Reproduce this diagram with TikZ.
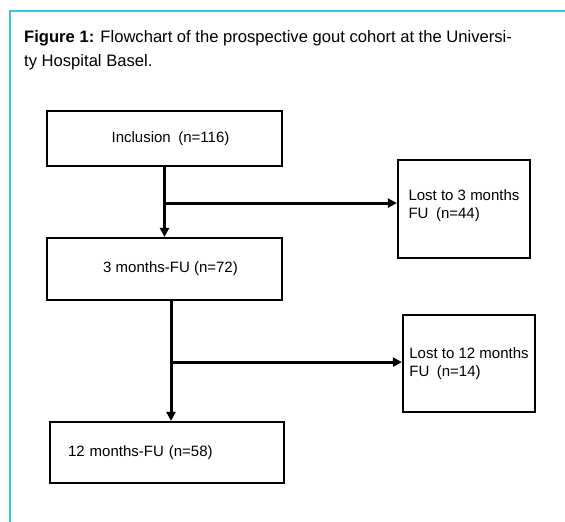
\documentclass[tikz,border=0pt]{standalone}
\usepackage{fontspec}
\setmainfont{Liberation Sans}
\usetikzlibrary{arrows.meta,positioning,calc}
\usepackage{xcolor}
\definecolor{frame}{HTML}{41BEDC}
\definecolor{dark}{HTML}{000000}
\tikzset{
  box/.style={draw=dark, line width=2.2pt, align=center, inner sep=0pt, font=\fontsize{15}{18}\selectfont},
  lostbox/.style={box, align=left},
  arrow/.style={-{Triangle[length=9pt,width=9pt]}, line width=3pt, draw=dark}
}

\begin{document}
\begin{tikzpicture}[x=1pt, y=-1pt]
  \useasboundingbox (0,0) rectangle (565,522);
  \draw[frame, line width=1.6pt] (565,11) -- (10,11) -- (10,522);
  \node[anchor=north west, inner sep=0pt, align=left, font=\fontsize{16.6}{24.5}\selectfont] (title) at (24,30)
    {\textbf{Figure 1:} Flowchart of the prospective gout cohort at the Universi-\\ty Hospital Basel.};
  \node[box, minimum width=235pt, minimum height=55pt] (incl) at (164.5,138.5) {\hspace{12pt}Inclusion\enspace(n=116)};
  \node[box, minimum width=235pt, minimum height=62pt] (fu3) at (164.5,269) {\hspace{12pt}3 months-FU (n=72)};
  \node[box, minimum width=234pt, minimum height=61pt, text width=198pt, align=left, inner xsep=18pt] (fu12) at (167,452.5) {12 months-FU (n=58)};
  \node[lostbox, minimum width=132pt, minimum height=98pt] (lost3) at (464,209) {Lost to 3 months\\FU\enspace(n=44)\\[-8pt]};
  \node[lostbox, minimum width=132pt, minimum height=97pt] (lost12) at (469,363.5) {Lost to 12 months\\FU\enspace(n=14)};
  % branch points
  \coordinate (b1) at ($(incl.south)+(0,36)$);
  \coordinate (d2) at ($(fu3.south)+(6.5,0)$);
  \coordinate (b2) at ($(d2)+(0,61)$);
  \draw[arrow] (incl.south) -- (fu3.north);
  \draw[arrow] (b1) -- (b1 -| lost3.west);
  \draw[arrow] (d2) -- (d2 |- fu12.north);
  \draw[arrow] (b2) -- (b2 -| lost12.west);
\end{tikzpicture}
\end{document}
